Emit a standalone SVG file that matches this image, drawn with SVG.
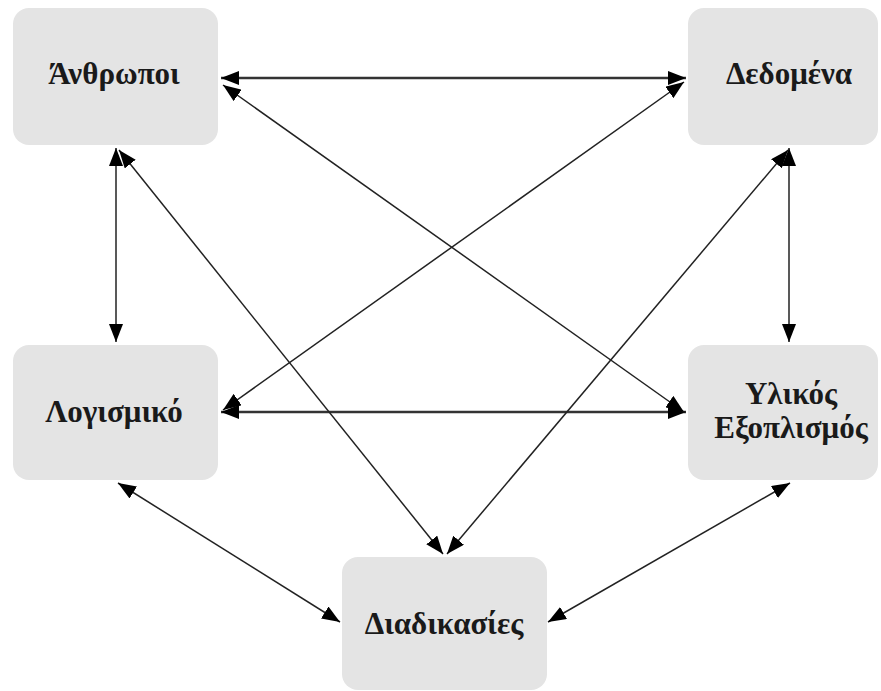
<svg xmlns="http://www.w3.org/2000/svg" width="881" height="691" viewBox="0 0 881 691">
<defs>
<marker id="ah" viewBox="0 0 18 14" refX="18" refY="7" markerWidth="18" markerHeight="14" markerUnits="userSpaceOnUse" orient="auto-start-reverse">
<path d="M0,0 L18,7 L0,14 Z" fill="#000"/>
</marker>
</defs>
<style>
.box{fill:#e4e4e4;}
.lbl{font-family:"Liberation Serif","Times New Roman",serif;font-weight:bold;font-size:31px;fill:#1a1a1a;text-anchor:middle;}
.c{stroke:#222;stroke-width:1.5;fill:none;marker-start:url(#ah);marker-end:url(#ah);}
.t{stroke:#333;stroke-width:2.4;}
</style>
<rect width="881" height="691" fill="#fff"/>
<g id="n-anthropoi"><rect class="box" x="13" y="8" width="205" height="137" rx="16"/><text class="lbl" x="114" y="84">Άνθρωποι</text></g>
<g id="n-dedomena"><rect class="box" x="688" y="8" width="190" height="137" rx="16"/><text class="lbl" x="789" y="84">Δεδομένα</text></g>
<g id="n-logismiko"><rect class="box" x="13" y="345" width="205" height="135" rx="16"/><text class="lbl" x="114" y="422">Λογισμικό</text></g>
<g id="n-ylikos"><rect class="box" x="688" y="345" width="190" height="135" rx="16"/><text class="lbl" x="791" y="404">Υλικός</text><text class="lbl" x="791" y="438">Εξοπλισμός</text></g>
<g id="n-diadikasies"><rect class="box" x="342" y="557" width="205" height="133" rx="16"/><text class="lbl" x="444" y="634">Διαδικασίες</text></g>
<g id="connectors">
<line class="c t" x1="221" y1="78" x2="686" y2="78"/>
<line class="c t" x1="221" y1="412" x2="686" y2="412"/>
<line class="c" x1="116" y1="148" x2="116" y2="342"/>
<line class="c" x1="789" y1="148" x2="789" y2="342"/>
<line class="c" x1="223" y1="85" x2="684" y2="412"/>
<line class="c" x1="684" y1="82" x2="223" y2="410"/>
<line class="c" x1="119" y1="150" x2="443" y2="554"/>
<line class="c" x1="788" y1="150" x2="447" y2="554"/>
<line class="c" x1="118" y1="483" x2="340" y2="622"/>
<line class="c" x1="790" y1="483" x2="548" y2="622"/>
</g>
</svg>
